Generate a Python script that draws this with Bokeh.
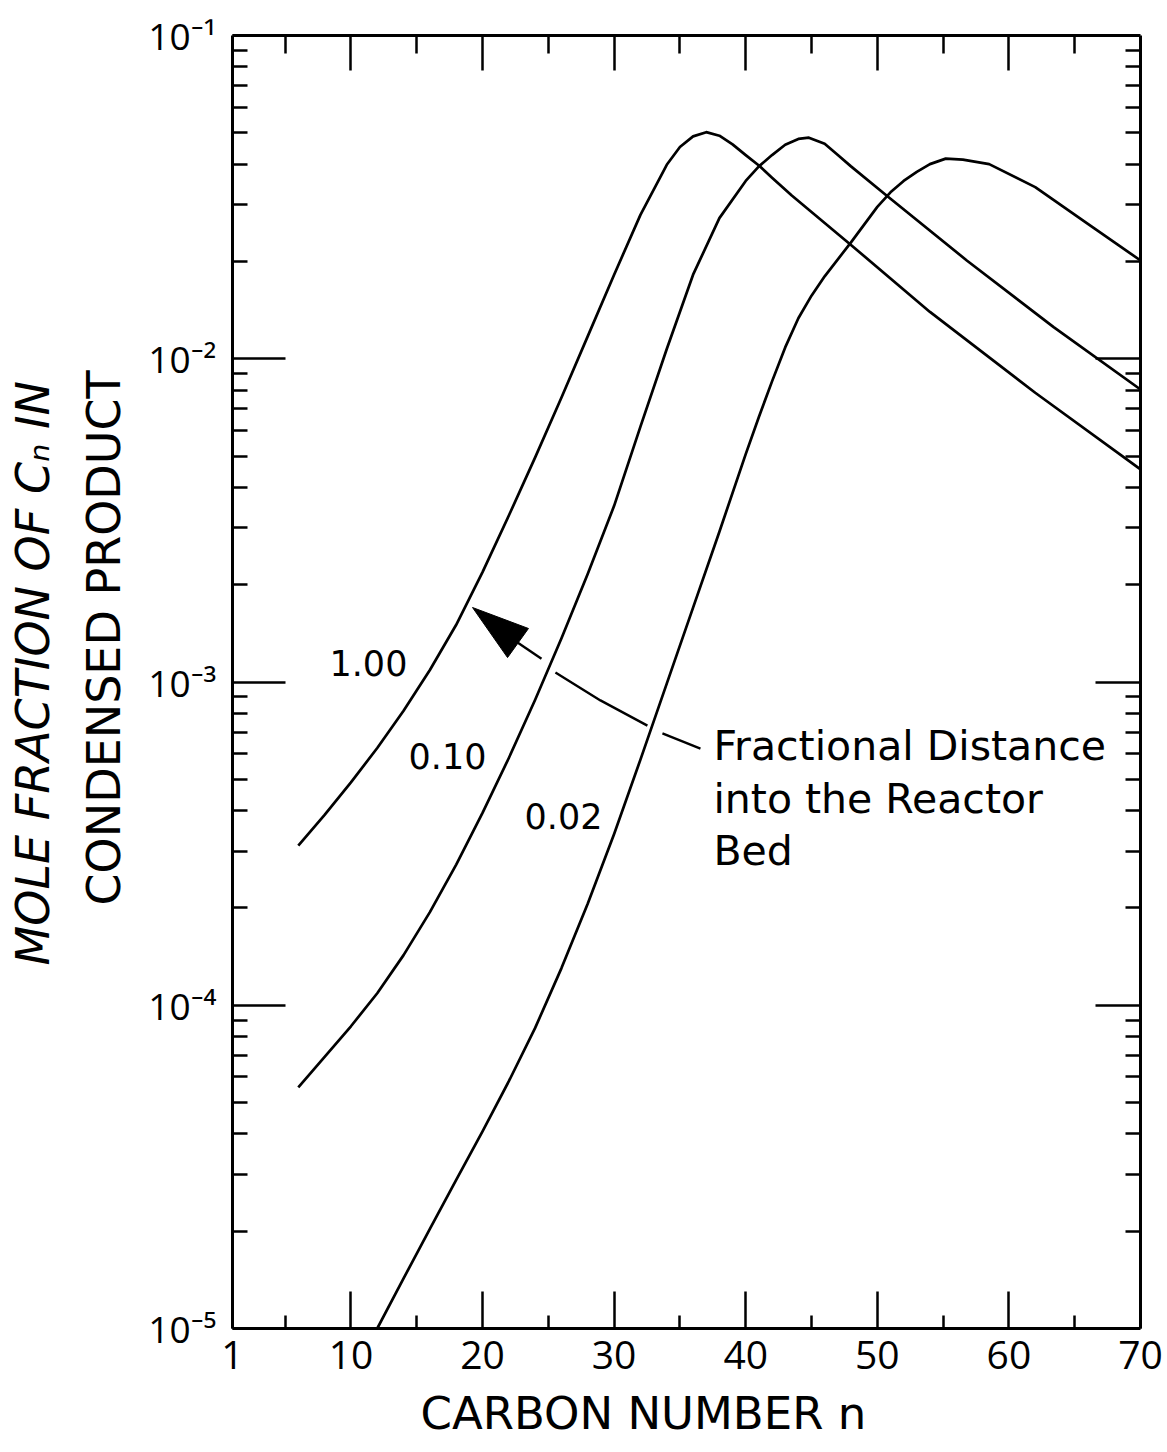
import numpy as np
from bokeh.plotting import figure
from bokeh.models import (Range1d, LinearAxis, LogAxis, FixedTicker,
                          CustomJSTickFormatter, Title)
from bokeh.core.properties import value
from bokeh.embed import file_html
from bokeh.resources import INLINE

# ---------------- data ----------------
# carbon number n and mole fraction, one series per fractional distance
n_100 = [6, 8, 10, 12, 14, 16, 18, 20, 22, 24, 26, 28, 30, 32, 34, 35, 36,
         37, 38, 39, 40, 41, 42, 43.5, 46, 48, 54, 62, 70]
y_100 = [3.12e-4, 3.88e-4, 4.89e-4, 6.25e-4, 8.15e-4, 1.089e-3, 1.503e-3,
         2.188e-3, 3.273e-3, 4.955e-3, 7.586e-3, 1.175e-2, 1.820e-2,
         2.786e-2, 3.981e-2, 4.519e-2, 4.875e-2, 5.023e-2, 4.898e-2,
         4.603e-2, 4.266e-2, 3.963e-2, 3.631e-2, 3.199e-2, 2.630e-2,
         2.249e-2, 1.396e-2, 7.85e-3, 4.55e-3]

n_010 = [6, 8, 10, 12, 14, 16, 18, 20, 22, 24, 26, 28, 30, 32, 34, 36, 38,
         40, 41, 42, 43, 44, 44.8, 46, 47, 48, 50.7, 56.8, 63.4, 70]
y_010 = [5.569e-5, 6.918e-5, 8.61e-5, 1.089e-4, 1.429e-4, 1.941e-4,
         2.723e-4, 3.936e-4, 5.821e-4, 8.81e-4, 1.365e-3, 2.163e-3,
         3.508e-3, 6.166e-3, 1.072e-2, 1.820e-2, 2.723e-2, 3.548e-2,
         3.936e-2, 4.266e-2, 4.592e-2, 4.786e-2, 4.831e-2, 4.624e-2,
         4.266e-2, 3.936e-2, 3.199e-2, 2.014e-2, 1.253e-2, 8.035e-3]

n_002 = [12, 14, 16, 18, 20, 22, 24, 26, 28, 30, 32, 34, 36, 38, 40, 41,
         42, 43, 44, 45, 46, 48, 50, 51, 52, 53, 54, 55.2, 56.5, 58.5, 62,
         66, 70]
y_002 = [1.0e-5, 1.429e-5, 2.032e-5, 2.884e-5, 4.074e-5, 5.821e-5, 8.511e-5,
         1.303e-4, 2.065e-4, 3.388e-4, 5.754e-4, 9.886e-4, 1.698e-3,
         2.917e-3, 5.07e-3, 6.607e-3, 8.511e-3, 1.084e-2, 1.334e-2,
         1.567e-2, 1.799e-2, 2.291e-2, 2.951e-2, 3.273e-2, 3.548e-2,
         3.784e-2, 4.0e-2, 4.16e-2, 4.13e-2, 4.0e-2, 3.396e-2,
         2.612e-2, 2.014e-2]

# ticks
x_ticks = [1, 10, 20, 30, 40, 50, 60, 70]
x_tick_labels = ["1", "10", "20", "30", "40", "50", "60", "70"]
x_minor = [5, 15, 25, 35, 45, 55, 65]
top_ticks = [10, 20, 30, 40, 50, 60]
y_ticks = [1e-5, 1e-4, 1e-3, 1e-2, 1e-1]
y_tick_labels = ["10\u207b\u2075", "10\u207b\u2074", "10\u207b\u00b3",
                 "10\u207b\u00b2", "10\u207b\u00b9"]
y_minor = [m * 10.0 ** e for e in range(-5, -1) for m in range(2, 10)]
right_ticks = [1e-4, 1e-3, 1e-2]

# titles
x_title = "CARBON NUMBER  n"
y_title_inner = "CONDENSED  PRODUCT"
y_title_outer = "MOLE FRACTION OF C\u2099 IN"

# curve labels
curve_label_text = ["1.00", "0.10", "0.02"]
curve_label_n = [11.33, 17.34, 26.15]
curve_label_y = [1.149e-3, 5.92e-4, 3.84e-4]

# annotation text
note_text = ["Fractional Distance", "into the Reactor", "Bed"]
note_n = [37.55, 37.55, 37.55]
note_y = [6.32e-4, 4.36e-4, 3.01e-4]

# arrow (shaft pieces and head)
arrow_xs = [[22.66, 24.48], [25.54, 28.96, 32.53], [33.67, 36.56]]
arrow_ys = [[1.325e-3, 1.18e-3], [1.07e-3, 8.77e-4, 7.33e-4], [6.93e-4, 6.22e-4]]
head_x = [19.24, 23.49, 21.9]
head_y = [1.70e-3, 1.464e-3, 1.19e-3]

FONT = "Open Sans"
WIDE = "DejaVu Sans"

# ---------------- figure ----------------
p = figure(width=1167, height=1452, x_range=Range1d(1, 70),
           y_range=Range1d(1e-5, 1e-1), y_axis_type="log",
           output_backend="svg", toolbar_location=None,
           min_border_left=232, min_border_right=27, min_border_top=35,
           min_border_bottom=124, outline_line_color=None,
           background_fill_color="white", border_fill_color="white")
p.grid.visible = False

fmt_x = CustomJSTickFormatter(args=dict(tvals=x_ticks, tlabels=x_tick_labels), code="""
const i = tvals.findIndex(t => Math.abs(t - tick) < 1e-6);
return i >= 0 ? tlabels[i] : '';
""")
fmt_y = CustomJSTickFormatter(args=dict(tvals=y_ticks, tlabels=y_tick_labels), code="""
const i = tvals.findIndex(t => Math.abs(Math.log10(t) - Math.log10(tick)) < 1e-6);
return i >= 0 ? tlabels[i] : '';
""")
blank = CustomJSTickFormatter(code="return '';")

def style(ax):
    ax.axis_line_width = 3
    ax.axis_line_color = "black"
    ax.major_tick_out = 0
    ax.minor_tick_out = 0
    ax.major_tick_line_width = 2.5
    ax.minor_tick_line_width = 2.5
    ax.major_tick_line_color = "black"
    ax.minor_tick_line_color = "black"
    ax.major_label_text_font = FONT
    ax.major_label_text_color = "black"

# bottom
xa = p.xaxis[0]
style(xa)
xa.ticker = FixedTicker(ticks=x_ticks, minor_ticks=x_minor)
xa.formatter = fmt_x
xa.major_tick_in = 37
xa.minor_tick_in = 13
xa.major_label_text_font_size = "39px"
xa.major_label_standoff = 12

# left
ya = p.yaxis[0]
style(ya)
ya.ticker = FixedTicker(ticks=y_ticks, minor_ticks=y_minor)
ya.formatter = fmt_y
ya.major_tick_in = 53
ya.minor_tick_in = 15
ya.major_label_text_font_size = "37px"
ya.major_label_standoff = 16

# top
ta = LinearAxis(ticker=FixedTicker(ticks=top_ticks, minor_ticks=x_minor),
                formatter=blank)
style(ta)
ta.major_tick_in = 35
ta.minor_tick_in = 18
ta.major_label_standoff = 0
ta.major_label_text_font_size = "1px"
p.add_layout(ta, "above")

# right
ra = LogAxis(ticker=FixedTicker(ticks=right_ticks, minor_ticks=y_minor),
             formatter=blank)
style(ra)
ra.major_tick_in = 45
ra.minor_tick_in = 15
ra.major_label_standoff = 0
ra.major_label_text_font_size = "1px"
p.add_layout(ra, "right")

# axis titles
p.add_layout(Title(text=y_title_inner, align="left", offset=423,
                   text_font=WIDE, text_font_style="normal",
                   text_font_size="46px", text_color="black", standoff=30),
             "left")
p.add_layout(Title(text=y_title_outer, align="left", offset=363,
                   text_font=WIDE, text_font_style="italic",
                   text_font_size="46px", text_color="black", standoff=0),
             "left")
p.add_layout(Title(text=x_title, align="left", offset=188,
                   text_font=WIDE, text_font_style="normal",
                   text_font_size="45px", text_color="black", standoff=26),
             "below")

# curves
for xs, ys in [(n_100, y_100), (n_010, y_010), (n_002, y_002)]:
    p.line(xs, ys, line_color="black", line_width=2.7, line_join="round")

# curve labels
p.text(x=curve_label_n, y=curve_label_y, text=curve_label_text,
       text_font=value(WIDE), text_font_size="35px", text_align="center",
       text_baseline="middle", text_color="black")

# annotation
p.text(x=note_n, y=note_y, text=note_text, text_font=value(WIDE),
       text_font_size="41px", text_align="left", text_baseline="middle",
       text_color="black")

# arrow
p.multi_line(xs=arrow_xs, ys=arrow_ys, line_color="black", line_width=2.4)
p.patch(head_x, head_y, fill_color="black", line_color="black", line_width=1)

open("out.html", "w").write(file_html(p, INLINE))
